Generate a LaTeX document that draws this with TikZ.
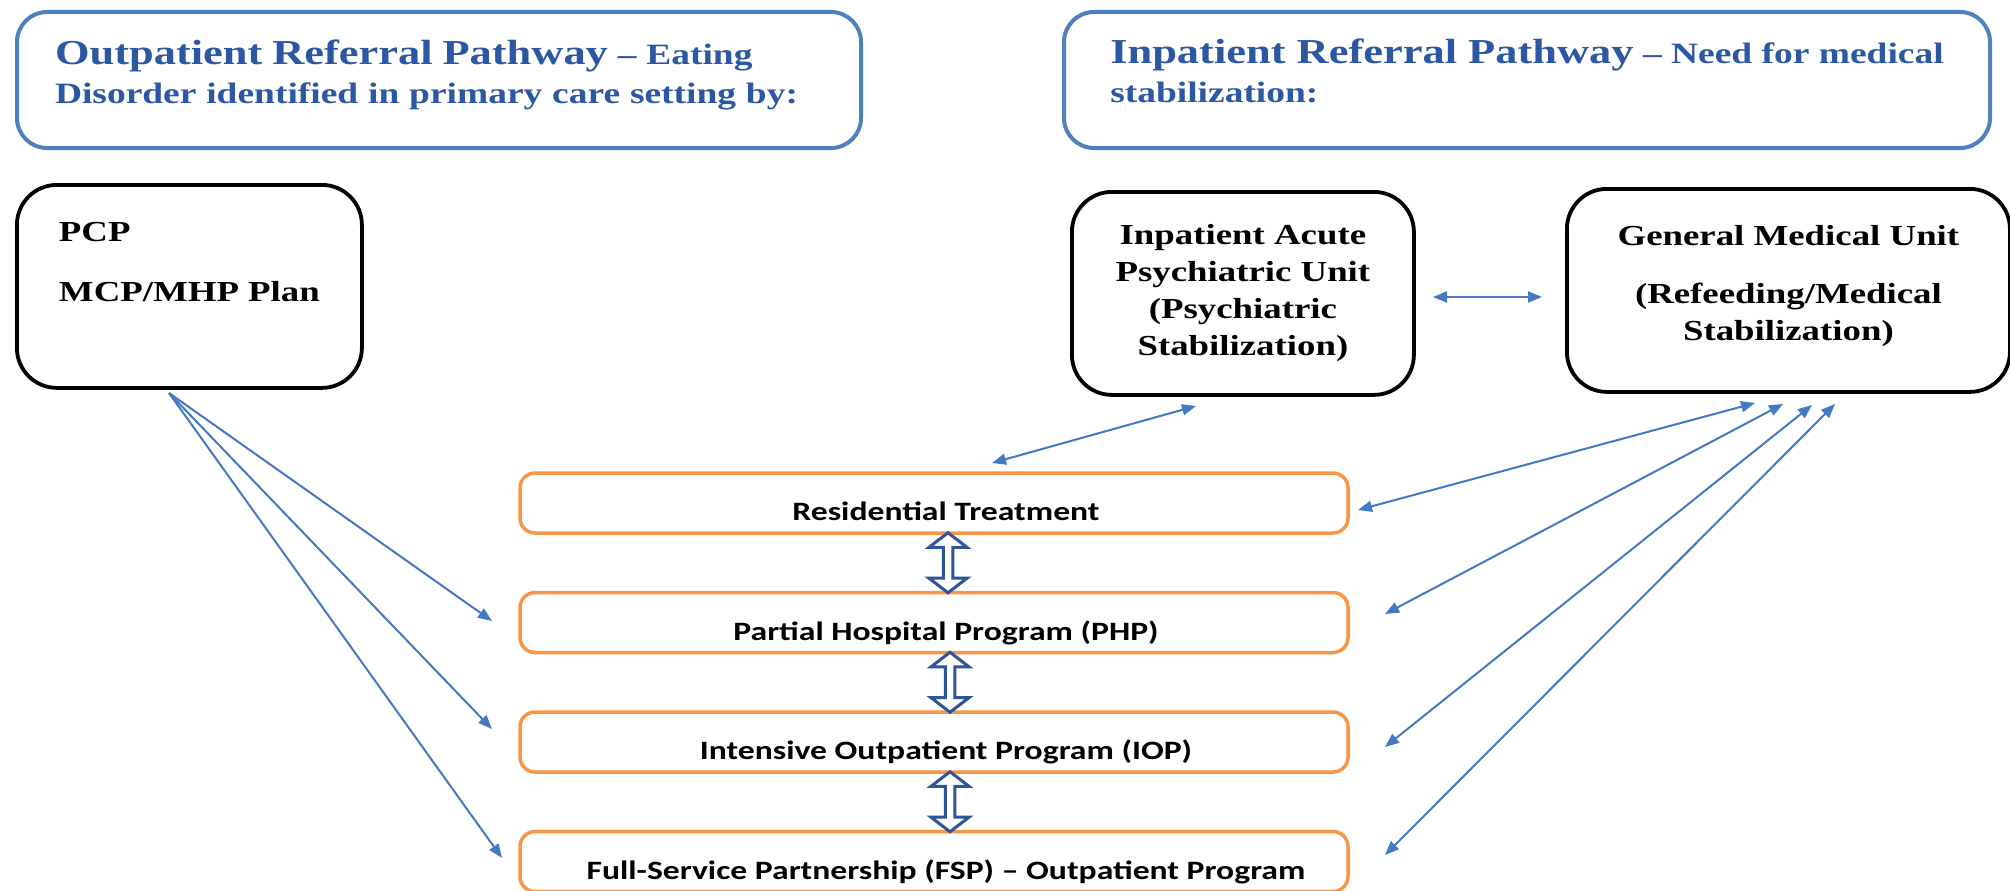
\documentclass[tikz,border=0pt]{standalone}
\usepackage{fontspec}
\setmainfont{Liberation Serif}[FakeStretch=1.27]
\newfontfamily\calibri{Carlito}[FakeStretch=1.27,Ligatures=TeX]
\usetikzlibrary{arrows.meta}
\usetikzlibrary{positioning}
\usetikzlibrary{calc}
\usetikzlibrary{shapes.arrows}
\definecolor{headblue}{RGB}{44,87,162}
\definecolor{frameblue}{RGB}{79,129,189}
\definecolor{linkblue}{RGB}{68,121,196}
\definecolor{stepblue}{RGB}{47,85,151}
\definecolor{careorange}{RGB}{247,150,70}
\tikzset{%
  pathway/.style = {draw=frameblue,line width=4pt,rounded corners=30pt,
        text=headblue,font=\bfseries\fontsize{29.5}{39}\selectfont,
        align=left,anchor=north west,minimum height=136pt,text depth=18pt},
  unit/.style = {draw,line width=3.8pt,rounded corners=40pt,anchor=north west,
        font=\bfseries\fontsize{29}{37}\selectfont,
        minimum height=203pt,inner sep=0pt},
  carebox/.style = {draw=careorange,line width=3.5pt,rounded corners=15pt,
        minimum width=828pt,minimum height=60pt,inner sep=0pt,
        text height=40pt,text depth=5pt,
        execute at begin node=\hspace*{24pt},
        font=\calibri\bfseries\fontsize{26.5}{30}\selectfont},
  updown/.style = {double arrow,draw=stepblue,line width=3pt,fill=white,
        rotate=90,minimum height=60pt,minimum width=38pt,inner sep=0pt,
        double arrow head extend=4.5pt,double arrow tip angle=105},
  oneway/.style = {draw=linkblue,line width=2pt,
        -{Triangle[length=14pt,width=11pt]}},
  twoway/.style = {oneway,
        {Triangle[length=14pt,width=11pt]}-{Triangle[length=14pt,width=11pt]}}
}

\begin{document}
\begin{tikzpicture}[x=1pt,y=-1pt,node distance=56pt]
  \path[use as bounding box,fill=white] (0,0) rectangle (2010,891);

  % the two pathways
  \node[pathway,text width=768pt,inner xsep=38pt,text depth=56pt] (outpath) at (15,10)
    {{\fontsize{35}{39}\selectfont Outpatient Referral Pathway} -- Eating\\
     Disorder identified in primary care setting by:};
  \node[pathway,minimum width=926pt] (inpath) at (1062,10)
    {{\fontsize{35}{39}\selectfont Inpatient Referral Pathway} -- Need for medical\\
     stabilization:};

  % referring and inpatient units
  \node[unit,minimum width=345pt,align=left,text depth=49pt] (pcp) at (15,183)
    {PCP\\[23pt]MCP/MHP Plan};
  \node[unit,minimum width=342pt,align=center] (acute) at (1070,190)
    {Inpatient Acute\\Psychiatric Unit\\(Psychiatric\\Stabilization)};
  \node[unit,minimum width=443pt,align=center,text depth=15pt] (medical) at (1565,187)
    {General Medical Unit\\[21pt](Refeeding/Medical\\Stabilization)};

  % levels of care
  \node[carebox] (resid) at (934,503) {Residential Treatment};
  \node[carebox,below=of resid] (php) {Partial Hospital Program (PHP)};
  \node[carebox,below=of php] (iop) {Intensive Outpatient Program (IOP)};
  \node[carebox,below=of iop] (fsp) {Full-Service Partnership (FSP) -- Outpatient Program};

  \node[updown] (residphp) at ($(resid.south)!.5!(php.north)+(14,0)$) {};
  \node[updown] (phpiop) at ($(php.south)!.5!(iop.north)+(16,0)$) {};
  \node[updown] (iopfsp) at ($(iop.south)!.5!(fsp.north)+(16,0)$) {};

  % arrow ends
  \coordinate (pcpfoot) at (169,393);
  \coordinate (phpleft) at (492,621);
  \coordinate (iopleft) at (492,729);
  \coordinate (fspleft) at (502,858);
  \coordinate (acutefoot) at (1196,406);
  \coordinate (residtop) at (992,463);
  \coordinate (acuteright) at (1433,297);
  \coordinate (medicalleft) at (1542,297);
  \coordinate (medfoota) at (1755,403);
  \coordinate (medfootb) at (1783,404);
  \coordinate (medfootc) at (1812,405);
  \coordinate (medfootd) at (1835,404);
  \coordinate (residright) at (1358,510);
  \coordinate (phpright) at (1385,614);
  \coordinate (iopright) at (1385,747);
  \coordinate (fspright) at (1385,855);

  \draw[oneway] (pcpfoot) -- (phpleft);
  \draw[oneway] (pcpfoot) -- (iopleft);
  \draw[oneway] (pcpfoot) -- (fspleft);
  \draw[twoway] (residtop) -- (acutefoot);
  \draw[twoway] (acuteright) -- (medicalleft);
  \draw[twoway] (residright) -- (medfoota);
  \draw[twoway] (phpright) -- (medfootb);
  \draw[twoway] (iopright) -- (medfootc);
  \draw[twoway] (fspright) -- (medfootd);
\end{tikzpicture}
\end{document}
